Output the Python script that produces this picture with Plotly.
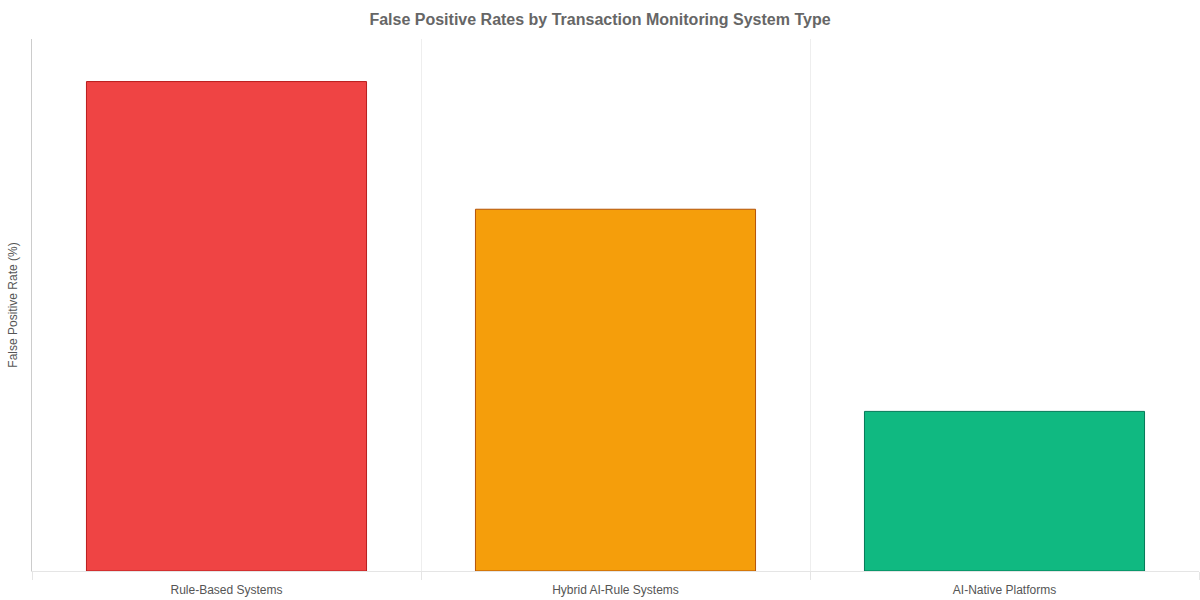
import plotly.graph_objects as go

categories = ["Rule-Based Systems", "Hybrid AI-Rule Systems", "AI-Native Platforms"]
false_positive_rates = [92, 68, 30]
fill_colors = ["#ef4444", "#f59e0b", "#10b981"]
line_colors = ["#b91c1c", "#b45309", "#047857"]

fig = go.Figure(
    go.Bar(
        x=categories,
        y=false_positive_rates,
        marker=dict(color=fill_colors, line=dict(color=line_colors, width=1)),
        width=0.72,
        hoverinfo="x+y",
    )
)

fig.update_layout(
    width=1200,
    height=600,
    paper_bgcolor="white",
    plot_bgcolor="white",
    margin=dict(l=32, r=1, t=39, b=29, autoexpand=False),
    showlegend=False,
    title=dict(
        text="<b>False Positive Rates by Transaction Monitoring System Type</b>",
        x=0.5,
        xanchor="center",
        y=0.968,
        yanchor="middle",
        font=dict(family="Liberation Sans, Arial, sans-serif", size=16, color="#666666"),
    ),
    font=dict(family="Liberation Sans, Arial, sans-serif", size=12, color="#555555"),
)

fig.update_xaxes(
    type="category",
    tickson="boundaries",
    showgrid=True,
    gridcolor="#eeeeee",
    gridwidth=1,
    showline=True,
    linecolor="#e5e5e5",
    linewidth=1,
    ticks="outside",
    ticklen=8,
    tickcolor="#e5e5e5",
    ticklabelstandoff=8,
    automargin=False,
    tickfont=dict(size=12, color="#555555"),
)

fig.update_yaxes(
    range=[0, 100],
    showticklabels=False,
    showgrid=False,
    zeroline=False,
    showline=True,
    linecolor="#cccccc",
    linewidth=1,
    automargin=False,
    title=dict(text="False Positive Rate (%)", font=dict(size=12, color="#555555"), standoff=10),
)

fig.write_html("out.html")
